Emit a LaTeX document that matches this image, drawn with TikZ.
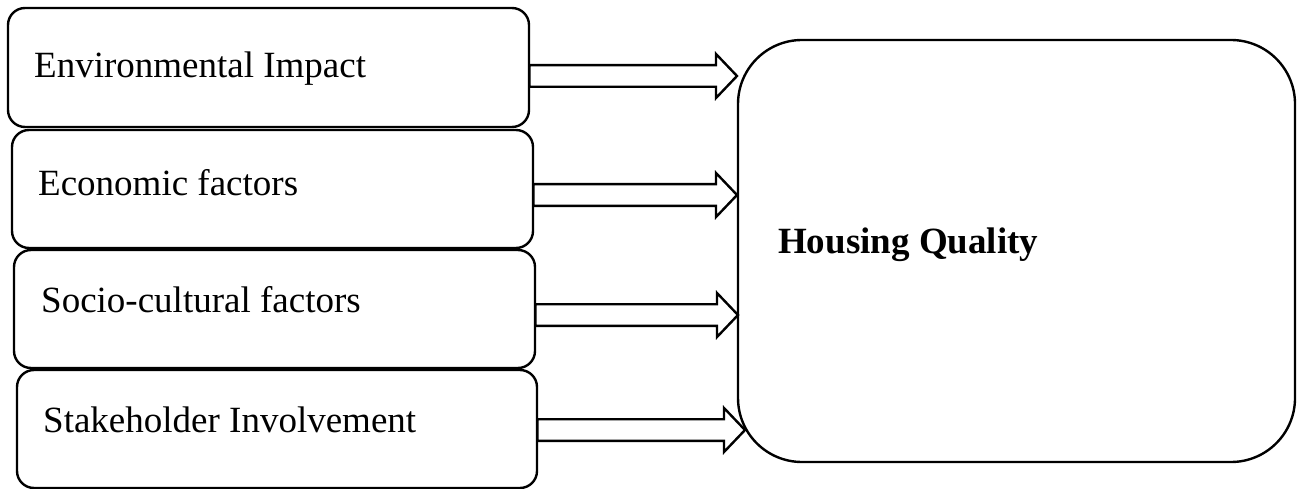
\documentclass[tikz,border=0pt]{standalone}
\usepackage{fontspec}
\setmainfont{Liberation Serif}
\usetikzlibrary{calc}
\tikzset{
  factorbox/.style={draw=black, line width=2.4pt, rounded corners=17pt, fill=white, inner sep=0pt},
  hqbox/.style={draw=black, line width=2.4pt, rounded corners=64pt, inner sep=0pt},
  factortext/.style={anchor=base west, inner sep=0pt, font=\fontsize{37}{44}\selectfont},
  hqtext/.style={anchor=base west, inner sep=0pt, font=\fontsize{37}{44}\selectfont\bfseries},
  arrline/.style={draw=black, line width=2.4pt, fill=white, line join=miter}
}
\newcommand\blkarrow[2]{%
  \path[arrline] let \p1=(#1), \p2=(#2) in
    (\x1,\y1+10.8pt) -- (\x2-21pt,\y1+10.8pt) -- (\x2-21pt,\y1+22pt) -- (\x2,\y1)
    -- (\x2-21pt,\y1-22pt) -- (\x2-21pt,\y1-10.8pt) -- (\x1,\y1-10.8pt) -- cycle;}
\begin{document}
\begin{tikzpicture}[x=1pt,y=-1pt]
\useasboundingbox (0,0) rectangle (1297,489);
% factor boxes
\draw[factorbox] (8,8) rectangle (529,127);
\node[minimum width=521pt, minimum height=119pt, anchor=north west, inner sep=0pt] (b1) at (8,8) {};
\draw[factorbox] (12,130) rectangle (533,248);
\node[minimum width=521pt, minimum height=118pt, anchor=north west, inner sep=0pt] (b2) at (12,130) {};
\draw[factorbox] (14,250) rectangle (535,368);
\node[minimum width=521pt, minimum height=118pt, anchor=north west, inner sep=0pt] (b3) at (14,250) {};
\draw[factorbox] (17,370) rectangle (537,488);
\node[minimum width=520pt, minimum height=118pt, anchor=north west, inner sep=0pt] (b4) at (17,370) {};
\node[factortext] (t1) at (34,78) {Environmental Impact};
\node[factortext] (t2) at (38,196) {Economic factors};
\node[factortext] (t3) at (41,312) {Socio-cultural factors};
\node[factortext] (t4) at (43,432) {Stakeholder Involvement};
% housing quality
\draw[hqbox] (738,40) rectangle (1295,462);
\node[minimum width=557pt, minimum height=422pt, anchor=north west, inner sep=0pt] (hq) at (738,40) {};
\node[hqtext] (hqt) at (778,253) {Housing Quality};
% arrow endpoints
\coordinate (s1) at (b1.east |- 0,76);
\coordinate (e1) at ($(hq.west |- 0,76)+(-1,0)$);
\coordinate (s2) at (b2.east |- 0,195);
\coordinate (e2) at ($(hq.west |- 0,195)+(-1,0)$);
\coordinate (s3) at (b3.east |- 0,315);
\coordinate (e3) at (hq.west |- 0,315);
\coordinate (s4) at (b4.east |- 0,430);
\coordinate (e4) at ($(hq.west |- 0,430)+(7,0)$);
\blkarrow{s1}{e1}
\blkarrow{s2}{e2}
\blkarrow{s3}{e3}
\blkarrow{s4}{e4}
\end{tikzpicture}
\end{document}
